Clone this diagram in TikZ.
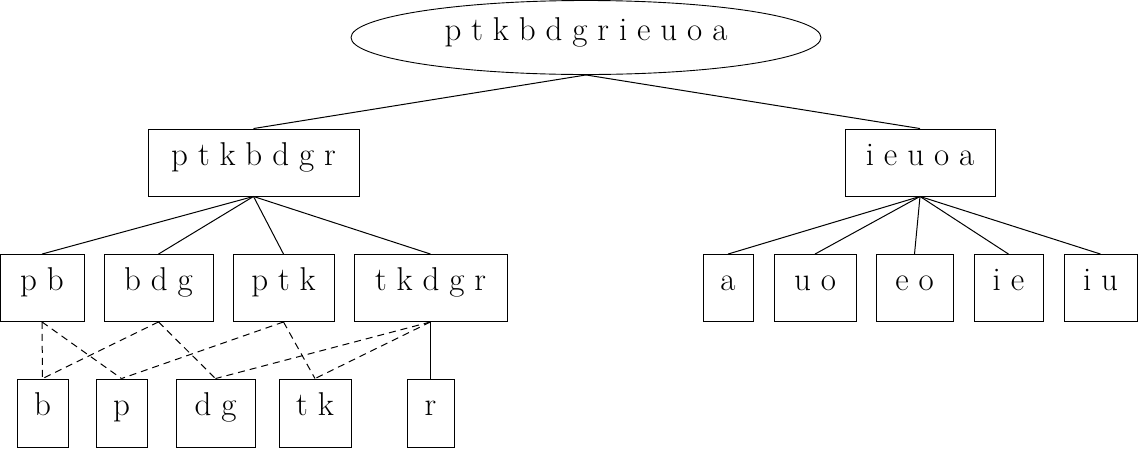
\documentclass[tikz,border=0pt]{standalone}
\usetikzlibrary{shapes.geometric}
\newcommand\setfont{\fontsize{33}{38}\selectfont\spaceskip=0.3em plus 0pt minus 0pt\relax}
\tikzset{
  setbox/.style={draw, rectangle, inner sep=0pt, minimum height=67pt},
  setoval/.style={draw, ellipse, inner sep=0pt, minimum width=470pt, minimum height=74pt},
  link/.style={line width=1pt},
  alt/.style={line width=1pt, dash pattern=on 7pt off 5pt}
}
\begin{document}
\begin{tikzpicture}[x=1pt,y=1pt]
            \tikzstyle{every node}+=[line width=0.9pt, font=\setfont, text height=0.7em, text depth=0.12em]
            \useasboundingbox (0,0) rectangle (1138,-456);
            \node [setoval] (all) at (586,-37.5) {p t k b d g r i e u o a};
            \node [setbox, minimum width=211pt] (cons) at (253.5,-162.5) {p t k b d g r};
            \node [setbox, minimum width=150pt] (vow) at (920,-162.5) {i e u o a};
            % consonant groups
            \node [setbox, minimum width=84pt] (pb) at (42,-288) {p b};
            \node [setbox, minimum width=109pt] (bdg) at (158.5,-288) {b d g};
            \node [setbox, minimum width=101pt] (ptk) at (283.5,-288) {p t k};
            \node [setbox, minimum width=153pt] (tkdgr) at (430.5,-288) {t k d g r};
            \node [setbox, minimum width=51pt, minimum height=68pt] (b) at (42.5,-413) {b};
            \node [setbox, minimum width=51pt, minimum height=68pt] (p) at (121.5,-413) {p};
            \node [setbox, minimum width=79pt, minimum height=68pt] (dg) at (215.5,-413) {d g};
            \node [setbox, minimum width=72pt, minimum height=68pt] (tk) at (315,-413) {t k};
            \node [setbox, minimum width=47pt, minimum height=68pt] (r) at (430.5,-413) {r};
            % vowel groups
            \node [setbox, minimum width=50pt] (a) at (728,-288) {a};
            \node [setbox, minimum width=82pt] (uo) at (815,-288) {u o};
            \node [setbox, minimum width=77pt] (eo) at (914.5,-288) {e o};
            \node [setbox, minimum width=69pt] (ie) at (1008.5,-288) {i e};
            \node [setbox, minimum width=73pt] (iu) at (1100.5,-288) {i u};
            \draw [link] (all.south) -- (cons.north);
            \draw [link] (all.south) -- (vow.north);
            \foreach \n in {pb,bdg,ptk,tkdgr}
              \draw [link] (cons.south) -- (\n.north);
            \foreach \n in {a,uo,eo,ie,iu}
              \draw [link] (vow.south) -- (\n.north);
            \draw [alt] (pb.south) -- (b.north);
            \draw [alt] (pb.south) -- (p.north);
            \draw [alt] (bdg.south) -- (b.north);
            \draw [alt] (bdg.south) -- (dg.north);
            \draw [alt] (ptk.south) -- (p.north);
            \draw [alt] (ptk.south) -- (tk.north);
            \draw [alt] (tkdgr.south) -- (dg.north);
            \draw [alt] (tkdgr.south) -- (tk.north);
            \draw [link] (tkdgr.south) -- (r.north);
        \end{tikzpicture}
\end{document}
